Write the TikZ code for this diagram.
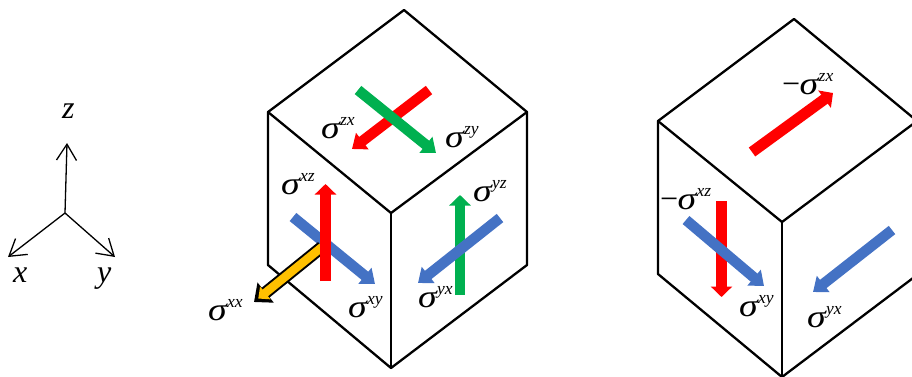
\documentclass[tikz,border=0pt]{standalone}
\usepackage{fontspec}
\setmainfont{Liberation Serif}
\usetikzlibrary{arrows.meta,calc}
\definecolor{cred}{HTML}{FF0000}
\definecolor{cgreen}{HTML}{00B050}
\definecolor{cblue}{HTML}{4472C4}
\definecolor{cyellow}{HTML}{FFC000}
\newcommand{\sgm}[2][]{{\fontsize{32}{32}\selectfont\itshape #1\scalebox{1.18}[1]{σ}\hspace{0.5pt}\raisebox{12.5pt}{\fontsize{17.5}{17.5}\selectfont #2}}}
\tikzset{
  edge/.style={line width=2.3pt,black,line join=round,line cap=round},
  axis/.style={line width=1.3pt,black,-{Straight Barb[length=16pt,width=20pt,line width=1.3pt]}},
  thinfat/.style={line width=10.5pt,-{Triangle[length=13pt,width=20pt]}},
  widefat/.style={line width=11pt,-{Triangle[length=10.5pt,width=21pt]}},
  lab/.style={anchor=base west,inner sep=0pt,outer sep=0pt},
  axlab/.style={anchor=base west,inner sep=0pt,font=\fontsize{32}{32}\selectfont\itshape},
}
\begin{document}
\begin{tikzpicture}[x=1pt,y=-1pt]
\useasboundingbox (0,0) rectangle (912,376);
\clip (0,0) rectangle (912,376);
% axes
\coordinate (o) at (65,213);
\coordinate (az) at (67,143);
\coordinate (ax) at (8,257);
\coordinate (ay) at (115,257);
\draw[axis] (o) -- (az);
\draw[axis] (o) -- (ax);
\draw[axis] (o) -- (ay);
\node[axlab] (lz) at (62,118) {z};
\node[axlab] (lx) at (13,282) {x};
\node[axlab] (ly) at (97,282) {y};
% cube 1
\coordinate (t1) at (404,10);
\coordinate (l1) at (268,112);
\coordinate (r1) at (527,112);
\coordinate (c1) at (391,213);
\coordinate (lb1) at (268,265);
\coordinate (rb1) at (527,265);
\coordinate (b1) at (391,368);
\draw[edge] (t1) -- (r1) -- (rb1) -- (b1) -- (lb1) -- (l1) -- cycle;
\draw[edge] (l1) -- (c1) -- (r1);
\draw[edge] (c1) -- (b1);
% cube 2
\coordinate (t2) at (794,19);
\coordinate (l2) at (658,121);
\coordinate (r2) at (917,121);
\coordinate (c2) at (782,222);
\coordinate (lb2) at (658,274);
\coordinate (rb2) at (917,275);
\coordinate (b2) at (782,377);
\draw[edge] (t2) -- (r2) -- (rb2) -- (b2) -- (lb2) -- (l2) -- cycle;
\draw[edge] (l2) -- (c2) -- (r2);
\draw[edge] (c2) -- (b2);
% cube 1 arrows
\coordinate (rzxa) at (429,90);
\coordinate (rzxb) at (352,149);
\draw[thinfat,cred] (rzxa) -- (rzxb);
\coordinate (gzya) at (358,90);
\coordinate (gzyb) at (436,153);
\draw[thinfat,cgreen] (gzya) -- (gzyb);
\coordinate (bxya) at (293,217);
\coordinate (bxyb) at (375,284);
\draw[thinfat,cblue] (bxya) -- (bxyb);
\coordinate (yxxa) at (322,247);
\coordinate (yxxb) at (254,302);
\coordinate (yxxc) at ($(yxxb)!5.5pt!(yxxa)$);
\draw[line width=12.5pt,black,-{Triangle[length=15pt,width=25pt]}] (yxxa) -- (yxxb);
\draw[line width=8.5pt,cyellow,-{Triangle[length=9pt,width=16pt]}] (yxxa) -- (yxxc);
\coordinate (rxza) at (325.5,281);
\coordinate (rxzb) at (325.5,184);
\draw[widefat,cred] (rxza) -- (rxzb);
\coordinate (gyza) at (460,295);
\coordinate (gyzb) at (460,195);
\draw[widefat,line width=9.5pt,cgreen] (gyza) -- (gyzb);
\coordinate (byxa) at (500,218);
\coordinate (byxb) at (418,283);
\draw[thinfat,cblue] (byxa) -- (byxb);
% cube 2 arrows
\coordinate (r2zxa) at (752,152);
\coordinate (r2zxb) at (833,93);
\draw[widefat,cred] (r2zxa) -- (r2zxb);
\coordinate (r2xza) at (721.5,201);
\coordinate (r2xzb) at (721.5,297);
\draw[widefat,cred] (r2xza) -- (r2xzb);
\coordinate (b2xya) at (686,220);
\coordinate (b2xyb) at (764,286);
\draw[thinfat,cblue] (b2xya) -- (b2xyb);
\coordinate (b2yxa) at (892,230);
\coordinate (b2yxb) at (813,292);
\draw[thinfat,cblue] (b2yxa) -- (b2yxb);
% labels
\node[lab] (s1) at (321,138) {\sgm{zx}};
\node[lab] (s2) at (445,147) {\sgm{zy}};
\node[lab] (s3) at (281,194) {\sgm{xz}};
\node[lab] (s4) at (473,201) {\sgm{yz}};
\node[lab] (s5) at (348,317) {\sgm{xy}};
\node[lab] (s6) at (418,307) {\sgm{yx}};
\node[lab] (s7) at (208,320) {\sgm{xx}};
\node[lab] (s8) at (781,94) {\sgm[\hspace{-1pt}−\hspace{-2pt}]{zx}};
\node[lab] (s9) at (659,209) {\sgm[\hspace{-1pt}−\hspace{-2pt}]{xz}};
\node[lab] (s10) at (739,316) {\sgm{xy}};
\node[lab] (s11) at (807,327) {\sgm{yx}};
\end{tikzpicture}
\end{document}
